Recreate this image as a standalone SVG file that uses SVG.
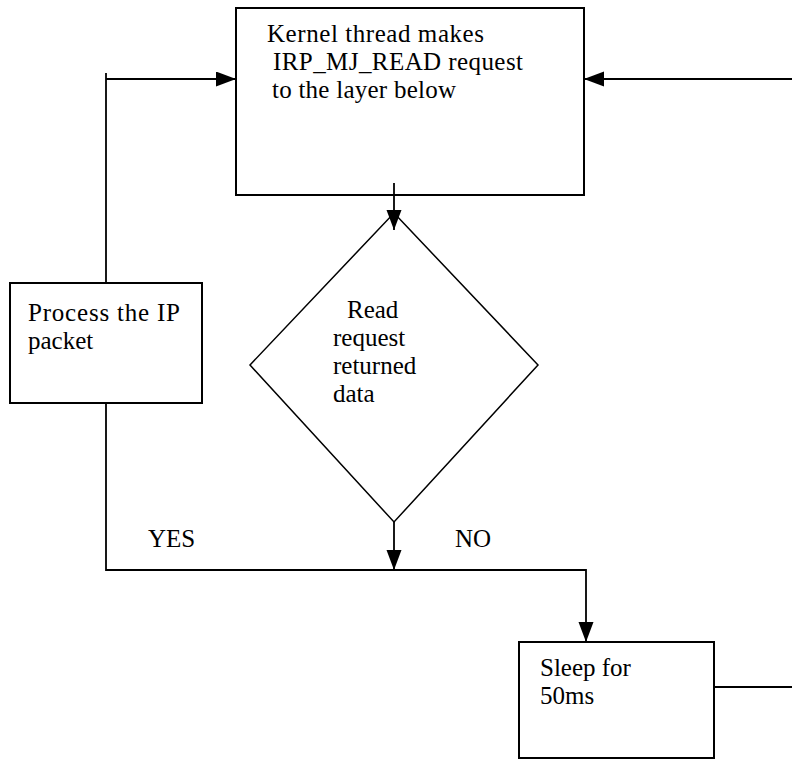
<svg xmlns="http://www.w3.org/2000/svg" width="792" height="759" viewBox="0 0 792 759">
  <style>
    .box { fill: #ffffff; stroke: #000000; stroke-width: 2; }
    .dia { fill: #ffffff; stroke: #000000; stroke-width: 1.5; }
    .wire { fill: none; stroke: #000000; stroke-width: 1.8; }
    .lbl { font-size: 25px; fill: #000000; }
  </style>
  <defs>
    <marker id="head" markerUnits="userSpaceOnUse" markerWidth="22" markerHeight="16" refX="20" refY="7.5" orient="auto">
      <path d="M0,0 L20,7.5 L0,15 Z" fill="#000000"/>
    </marker>
  </defs>
  <rect width="792" height="759" fill="#ffffff"/>

  <g font-family="'Liberation Serif', 'Times New Roman', Times, 'DejaVu Serif', serif">
    <!-- Kernel read request -->
    <g id="read-request">
      <rect class="box" x="236" y="8" width="348" height="187"/>
      <text class="lbl" x="267" y="42" textLength="217">Kernel thread makes</text>
      <text class="lbl" x="273" y="70" textLength="250">IRP_MJ_READ request</text>
      <text class="lbl" x="272" y="98" textLength="184">to the layer below</text>
    </g>

    <!-- Decision: did the read return data? -->
    <g id="decision">
      <polygon class="dia" points="394,213 538,365 394,522 250,365"/>
      <text class="lbl" x="347" y="318">Read</text>
      <text class="lbl" x="333" y="346">request</text>
      <text class="lbl" x="333" y="374">returned</text>
      <text class="lbl" x="333" y="402">data</text>
    </g>

    <!-- Process packet -->
    <g id="process-packet">
      <rect class="box" x="10" y="283" width="192" height="120"/>
      <text class="lbl" x="28" y="321" textLength="152">Process the IP</text>
      <text class="lbl" x="28" y="349">packet</text>
    </g>

    <!-- Sleep -->
    <g id="sleep">
      <rect class="box" x="519" y="642" width="195" height="116"/>
      <text class="lbl" x="540" y="676">Sleep for</text>
      <text class="lbl" x="540" y="704">50ms</text>
    </g>

    <!-- Connectors -->
    <g id="connectors">
      <path class="wire" d="M106,283 V73"/>
      <path class="wire" d="M106,79 H236" marker-end="url(#head)"/>
      <path class="wire" d="M394,183 V230" marker-end="url(#head)"/>
      <path class="wire" d="M394,522 V570" marker-end="url(#head)"/>
      <path class="wire" d="M106,403 V570 H586 V642" marker-end="url(#head)"/>
      <path class="wire" d="M714,687 H792"/>
      <path class="wire" d="M792,79 H584" marker-end="url(#head)"/>
      <text class="lbl" x="148" y="547">YES</text>
      <text class="lbl" x="455" y="547">NO</text>
    </g>
  </g>
</svg>
